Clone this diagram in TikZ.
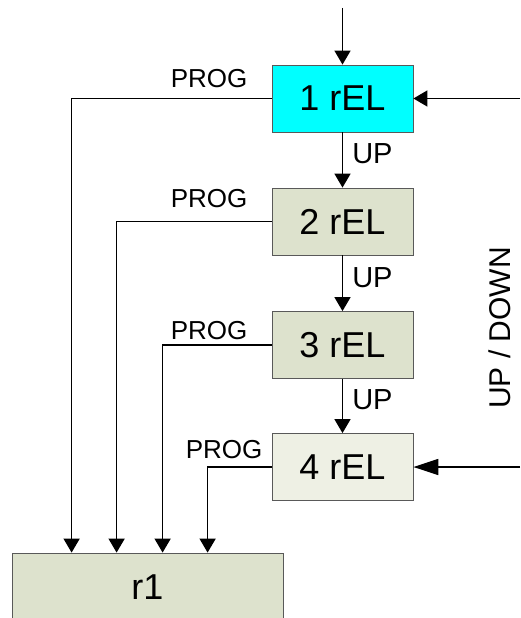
\documentclass[tikz,border=0pt]{standalone}
\usepackage{fontspec}
\setmainfont{Liberation Sans}
\usepackage{tikz}
\usetikzlibrary{positioning,arrows.meta}
\definecolor{relcyan}{RGB}{0,255,255}
\definecolor{relgray}{RGB}{221,226,205}
\definecolor{rellight}{RGB}{238,240,228}
\tikzset{
relbox/.style={rectangle, draw=black!65, line width=0.8pt, minimum width=141pt, minimum height=67pt, inner sep=0pt, font=\fontsize{36}{40}\selectfont},
link/.style={line width=1.6pt, -{Triangle[length=14pt,width=16pt]}},
uplabel/.style={right, inner sep=0pt, xshift=9pt, yshift=6pt, font=\fontsize{29}{32}\selectfont},
proglabel/.style={inner sep=0pt, font=\fontsize{26}{30}\selectfont}
}

\begin{document}
\begin{tikzpicture}[x=1pt,y=-1pt]
\useasboundingbox (0,0) rectangle (520,618);
\clip (0,0) rectangle (520,618);
% Draw relay boxes
\node (rel1) [relbox, fill=relcyan] at (342.5,98.5) {1 rEL};
\node (rel2) [relbox, fill=relgray] at (342.5,221.5) {2 rEL};
\node (rel3) [relbox, fill=relgray] at (342.5,345) {3 rEL};
\node (rel4) [relbox, fill=rellight] at (342.5,467) {4 rEL};
\node (r1) [relbox, fill=relgray, minimum width=271pt, minimum height=80pt] at (147.5,593) {\raisebox{11pt}{r1}};

% Draw inputs
\coordinate (top) at (342.5,8);
\coordinate (inA) at (520,98.5);
\coordinate (inB) at (520,467);
\draw [link] (top) -- (rel1);
\draw [link] (inA) -- (rel1.east);
\draw [line width=1.6pt, -{Triangle[length=25pt,width=16pt]}] (inB) -- (rel4.east);
\node (updown) [rotate=90, font=\fontsize{30}{34}\selectfont] at (500,328) {UP / DOWN};

% Draw UP chain
\draw [link] (rel1) -- node [uplabel] {UP} (rel2);
\draw [link] (rel2) -- node [uplabel] {UP} (rel3);
\draw [link] (rel3) -- node [uplabel] {UP} (rel4);

% Draw PROG lines
\draw [link] (rel1.west) -| ([xshift=60pt]r1.north west);
\draw [link] (rel2.west) -| ([xshift=105pt]r1.north west);
\draw [link] (rel3.west) -| ([xshift=151pt]r1.north west);
\draw [link] (rel4.west) -| ([xshift=196pt]r1.north west);
\node (prog1) [proglabel, above left=11pt and 24pt of rel1.west] {PROG};
\node (prog2) [proglabel, above left=14pt and 24pt of rel2.west] {PROG};
\node (prog3) [proglabel, above left=5pt and 24pt of rel3.west] {PROG};
\node (prog4) [proglabel, above left=8pt and 9pt of rel4.west] {PROG};

\end{tikzpicture}
\end{document}
